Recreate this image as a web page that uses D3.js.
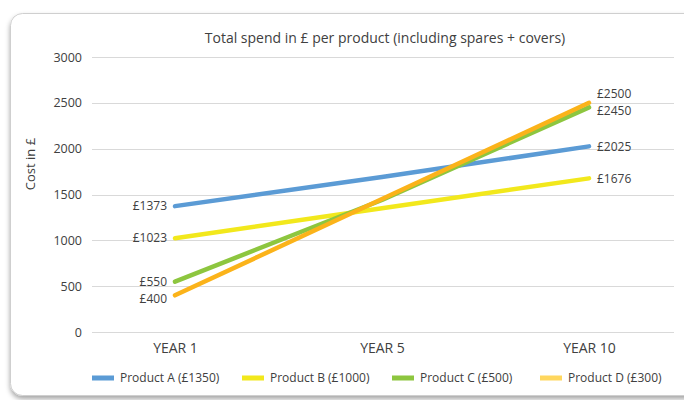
<!DOCTYPE html>
<html>
<head>
  <meta charset="utf-8">
  <title>Total spend per product</title>
  <script src="https://d3js.org/d3.v7.min.js"></script>
  <style>
    body { margin: 0; background: #fff; font-family: "Open Sans", sans-serif; }
    svg { display: block; }
    .grid line { stroke: #d9d9d9; stroke-width: 1px; }
    .axis text { fill: #404040; font-size: 12.5px; }
  </style>
</head>
<body>
<div id="chart"></div>

<script>
const years = ["YEAR 1", "YEAR 5", "YEAR 10"];
const products = ["Product A (£1350)", "Product B (£1000)", "Product C (£500)", "Product D (£300)"];
const productA = [1373, 1690, 2025];
const productB = [1023, 1350, 1676];
const productC = [550, 1440, 2450];
const productD = [400, 1450, 2500];
const yTicks = [0, 500, 1000, 1500, 2000, 2500, 3000];

const lineColors = ["#5b9bd5", "#f2e81c", "#8dc63f", "#fbb31a"];
const legendColors = ["#5b9bd5", "#f2e81c", "#8dc63f", "#ffd75e"];
// vertical nudges for the data labels [first, last]
const labelNudge = [[0, 0], [0, 0], [0, 3], [3, -9]];

const series = [productA, productB, productC, productD];

const width = 684, height = 400;

const svg = d3.select("#chart").append("svg")
  .attr("width", width)
  .attr("height", height);

// chart frame with soft shadow
const defs = svg.append("defs");
const f = defs.append("filter").attr("id", "shadow")
  .attr("x", "-5%").attr("y", "-5%").attr("width", "110%").attr("height", "115%");
f.append("feDropShadow").attr("dx", 0).attr("dy", 3).attr("stdDeviation", 2.5)
  .attr("flood-color", "#000").attr("flood-opacity", 0.35);

svg.append("rect")
  .attr("x", 10.5).attr("y", 13.5)
  .attr("width", 690).attr("height", 382)
  .attr("rx", 12)
  .attr("fill", "#fff")
  .attr("stroke", "#cfcfcf")
  .attr("filter", "url(#shadow)");

const gridLeft = 92, gridRight = 674;

const x = d3.scalePoint().domain(years).range([175, 589]);
const y = d3.scaleLinear().domain([0, 3000]).range([332, 57]);

svg.append("text")
  .attr("x", 385).attr("y", 43)
  .attr("text-anchor", "middle")
  .attr("fill", "#404040")
  .style("font-size", "14px")
  .text("Total spend in £ per product (including spares + covers)");

// gridlines
svg.append("g").attr("class", "grid")
  .selectAll("line").data(yTicks).join("line")
  .attr("x1", gridLeft).attr("x2", gridRight)
  .attr("y1", d => Math.round(y(d)) + 0.5)
  .attr("y2", d => Math.round(y(d)) + 0.5);

// y axis labels
const yAxis = d3.axisLeft(y).tickValues(yTicks).tickFormat(d3.format("d")).tickSize(0).tickPadding(0);
svg.append("g").attr("class", "axis")
  .attr("transform", "translate(82,0)")
  .call(yAxis)
  .call(g => g.select(".domain").remove())
  .selectAll("text").attr("font-family", "Open Sans, sans-serif");

// x axis labels
const xAxis = d3.axisBottom(x).tickSize(0).tickPadding(0);
svg.append("g").attr("class", "axis")
  .attr("transform", "translate(0,343)")
  .call(xAxis)
  .call(g => g.select(".domain").remove())
  .selectAll("text").attr("font-family", "Open Sans, sans-serif")
  .style("font-size", "14px");

svg.append("text")
  .attr("transform", "translate(35,164) rotate(-90)")
  .attr("text-anchor", "middle")
  .attr("fill", "#404040")
  .style("font-size", "13px")
  .text("Cost in £");

// lines
const line = d3.line().x((d, i) => x(years[i])).y(d => y(d));

svg.append("g").selectAll("path").data(series).join("path")
  .attr("d", line)
  .attr("fill", "none")
  .attr("stroke", (d, i) => lineColors[i])
  .attr("stroke-width", 4.5)
  .attr("stroke-linecap", "round")
  .attr("stroke-linejoin", "round");

// data labels
const labels = svg.append("g").style("font-size", "12px").attr("fill", "#404040");
series.forEach((s, i) => {
  labels.append("text")
    .attr("x", x(years[0]) - 8)
    .attr("y", y(s[0]) + labelNudge[i][0])
    .attr("dy", "0.35em")
    .attr("text-anchor", "end")
    .text("£" + s[0]);
  labels.append("text")
    .attr("x", x(years[2]) + 8)
    .attr("y", y(s[2]) + labelNudge[i][1])
    .attr("dy", "0.35em")
    .text("£" + s[2]);
});

// legend
const legendX = [92, 242, 392, 540];
const legend = svg.append("g").selectAll("g").data(products).join("g")
  .attr("transform", (d, i) => `translate(${legendX[i]},378)`);
legend.append("rect")
  .attr("x", 0).attr("y", -2.5).attr("width", 22).attr("height", 5)
  .attr("fill", (d, i) => legendColors[i]);
legend.append("text")
  .attr("x", 28).attr("dy", "0.35em")
  .attr("fill", "#404040")
  .style("font-size", "12px")
  .text(d => d);
</script>
</body>
</html>
